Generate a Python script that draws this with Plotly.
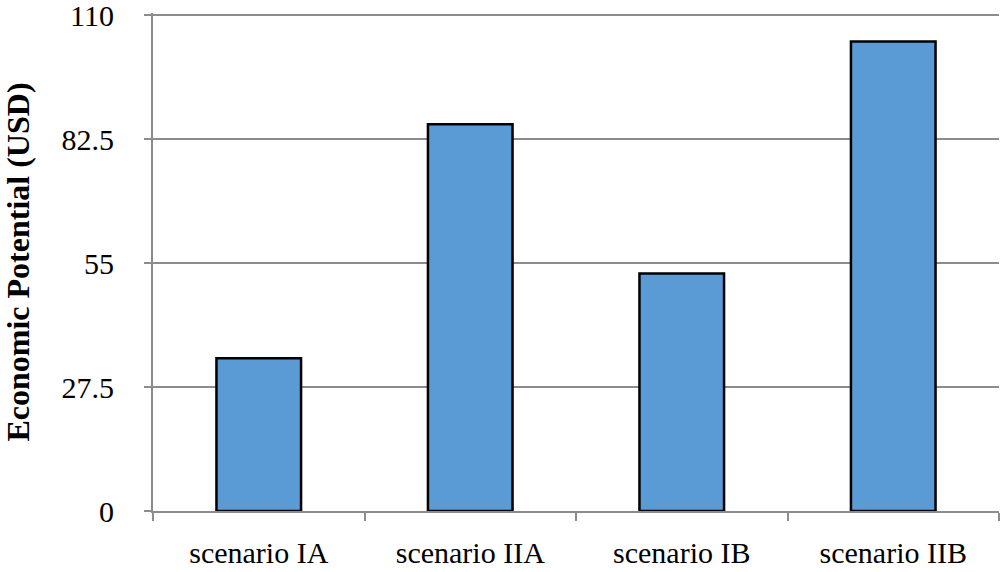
import plotly.graph_objects as go

categories = ["scenario IA", "scenario IIA", "scenario IB", "scenario IIB"]
values = [33.9, 85.8, 52.7, 104.2]
y_ticks = [0, 27.5, 55, 82.5, 110]
y_tick_labels = ["0", "27.5", "55", "82.5", "110"]

fig = go.Figure()
fig.add_trace(go.Bar(
    x=categories, y=values,
    marker=dict(color="#5B9BD5", line=dict(color="black", width=2.5)),
    width=0.4,
))

fig.update_layout(
    width=1003, height=572,
    margin=dict(l=153, r=4, t=13, b=61),
    paper_bgcolor="white", plot_bgcolor="white",
    font=dict(family="Liberation Serif, Times New Roman, serif", size=30, color="black"),
    showlegend=False,
    xaxis=dict(
        showline=True, linecolor="#8c8c8c", linewidth=2,
        ticks="outside", tickson="boundaries", ticklen=8, tickcolor="#8c8c8c", tickwidth=2,
        showgrid=False, tickfont=dict(size=30), automargin=False,
        ticklabelstandoff=14, ticklabeloverflow="allow",
    ),
    yaxis=dict(
        range=[0, 110.5], tickvals=y_ticks, ticktext=y_tick_labels,
        showline=True, linecolor="#8c8c8c", linewidth=2,
        ticks="outside", ticklen=7, tickcolor="#8c8c8c", tickwidth=2,
        showgrid=True, gridcolor="#8c8c8c", gridwidth=2,
        zeroline=False, tickfont=dict(size=30), automargin=False,
        ticklabelstandoff=24, ticklabeloverflow="allow",
        title=dict(text="<b>Economic Potential (USD)</b>", font=dict(size=32), standoff=40),
    ),
)

fig.write_html("out.html", config={"displayModeBar": False},
               post_script="document.body.style.margin='0px';")
